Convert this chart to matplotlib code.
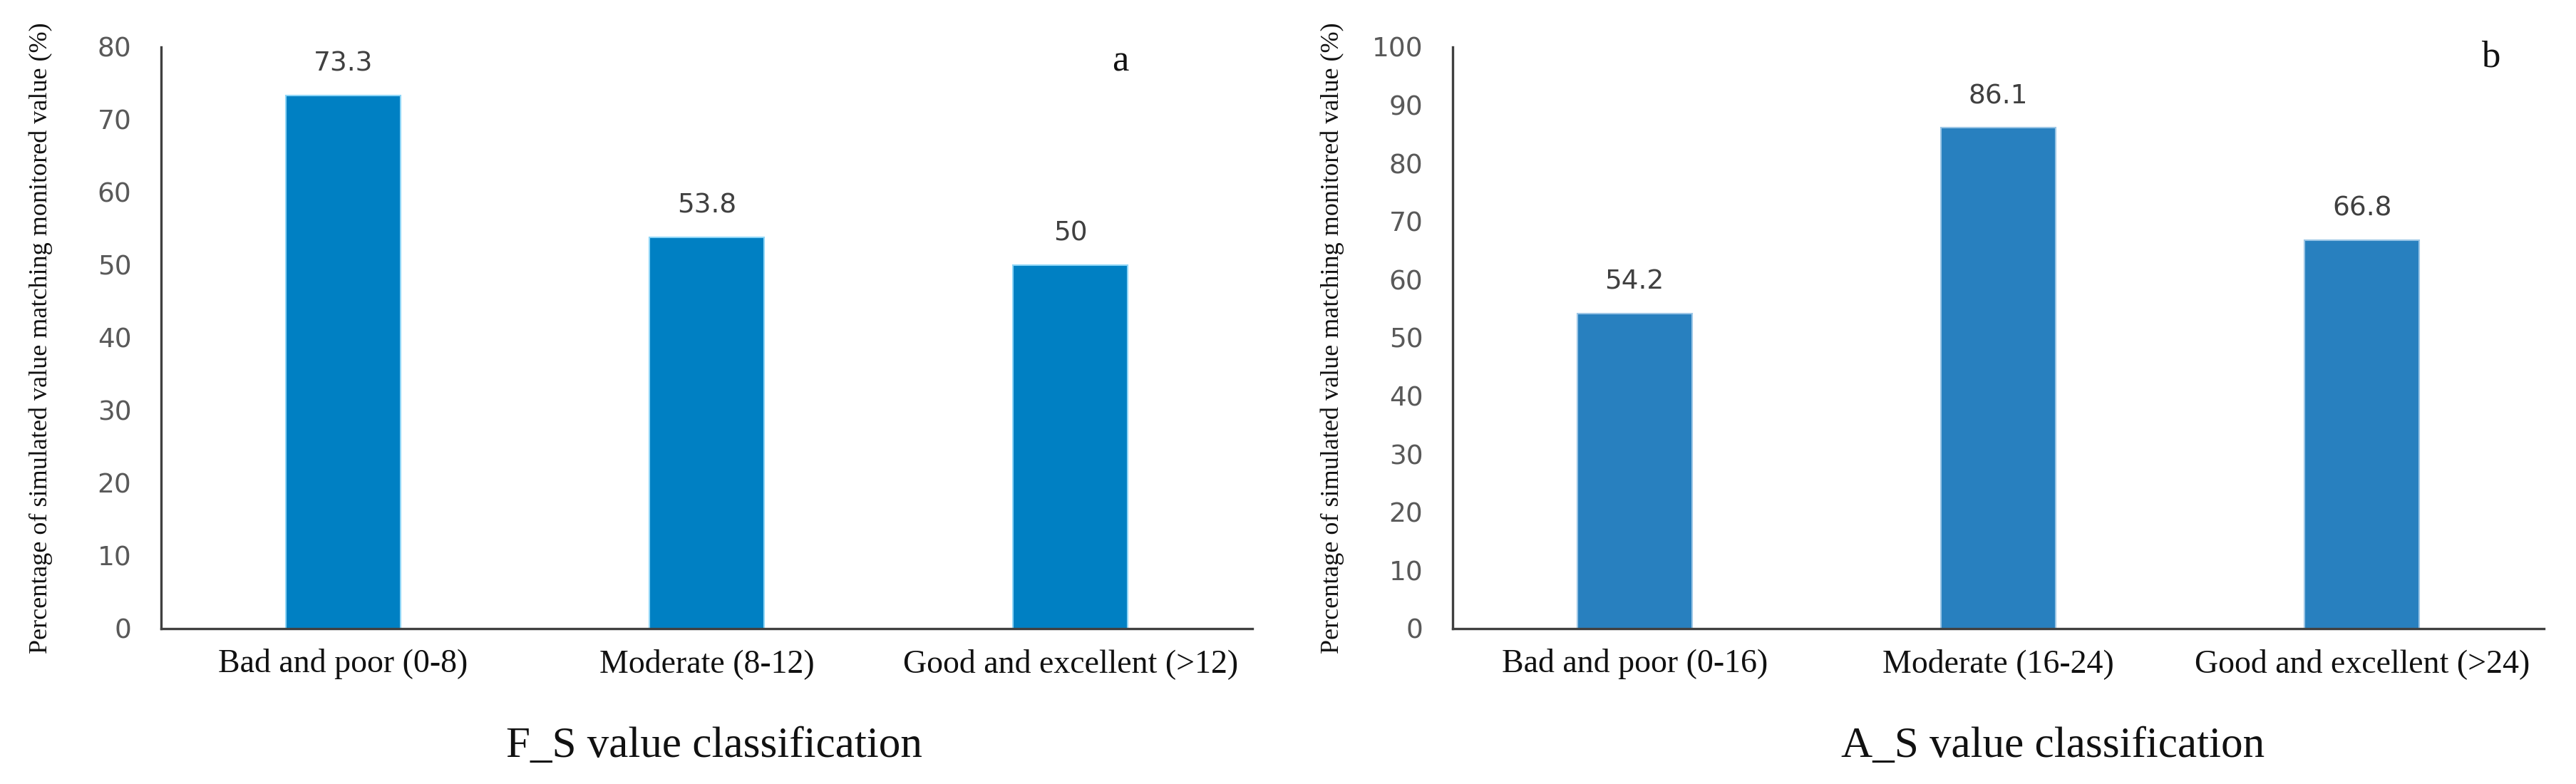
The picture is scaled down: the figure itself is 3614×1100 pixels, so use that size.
import matplotlib
matplotlib.use("Agg")
import matplotlib.pyplot as plt

# panel a: F_S classes
fs_classes = ["Bad and poor (0-8)", "Moderate (8-12)", "Good and excellent (>12)"]
fs_values = [73.3, 53.8, 50]

# panel b: A_S classes
as_classes = ["Bad and poor (0-16)", "Moderate (16-24)", "Good and excellent (>24)"]
as_values = [54.2, 86.1, 66.8]

ylabel = "Percentage of simulated value matching monitored value (%)"

W, H = 3614, 1100
fig = plt.figure(figsize=(W / 100, H / 100), dpi=100)

serif = "Liberation Serif"


def panel(rect, cats, vals, ymax, color, edge, xlabel, tag, xlab_x):
    ax = fig.add_axes(rect)
    x = range(len(cats))
    bars = ax.bar(x, vals, width=0.316, color=color, edgecolor=edge, linewidth=1.5)
    ax.set_xlim(-0.5, len(cats) - 0.5)
    ax.set_ylim(0, ymax)
    ax.set_yticks(range(0, ymax + 1, 10))

    for s in ["top", "right"]:
        ax.spines[s].set_visible(False)
    for s in ["left", "bottom"]:
        ax.spines[s].set_color("#404040")
        ax.spines[s].set_linewidth(2.4)

    ax.tick_params(axis="y", length=0, pad=30, labelsize=27, labelcolor="#595959")
    ax.tick_params(axis="x", length=0, pad=20)
    ax.set_xticks(list(x))
    ax.set_xticklabels(cats, fontfamily=serif, fontsize=33, color="#111111")

    # value labels above the bars
    for b, v in zip(bars, vals):
        ax.annotate(f"{v:g}", (b.get_x() + b.get_width() / 2, v),
                    xytext=(0, 19), textcoords="offset points",
                    ha="center", va="bottom", fontsize=27, color="#404040")

    ax.text(-0.110, 0.5, ylabel, transform=ax.transAxes, rotation=90,
            ha="center", va="center", fontfamily=serif, fontsize=26,
            color="#111111")
    ax.text(xlab_x, -0.202, xlabel, transform=ax.transAxes, ha="center",
            va="center", fontfamily=serif, fontsize=44, color="#111111")
    ax.text(tag[0], tag[1], tag[2], transform=ax.transAxes, ha="center",
            va="center", fontfamily=serif, fontsize=38, color="#111111")
    return ax


bottom = 1 - 882 / H
height = (882 - 66) / H
width = 1531 / W

panel([226 / W, bottom, width, height], fs_classes, fs_values, 80,
      "#0080c3", "#8fd6f7", "F_S value classification",
      ((1572 - 226) / 1531, (882 - 86) / 816, "a"), 0.507)
panel([2038 / W, bottom, width, height], as_classes, as_values, 100,
      "#2880bf", "#9cc6e6", "A_S value classification",
      ((3494 - 2038) / 1531, (882 - 80) / 816, "b"), 0.55)

fig.savefig("out.png", dpi=100, facecolor="white")
